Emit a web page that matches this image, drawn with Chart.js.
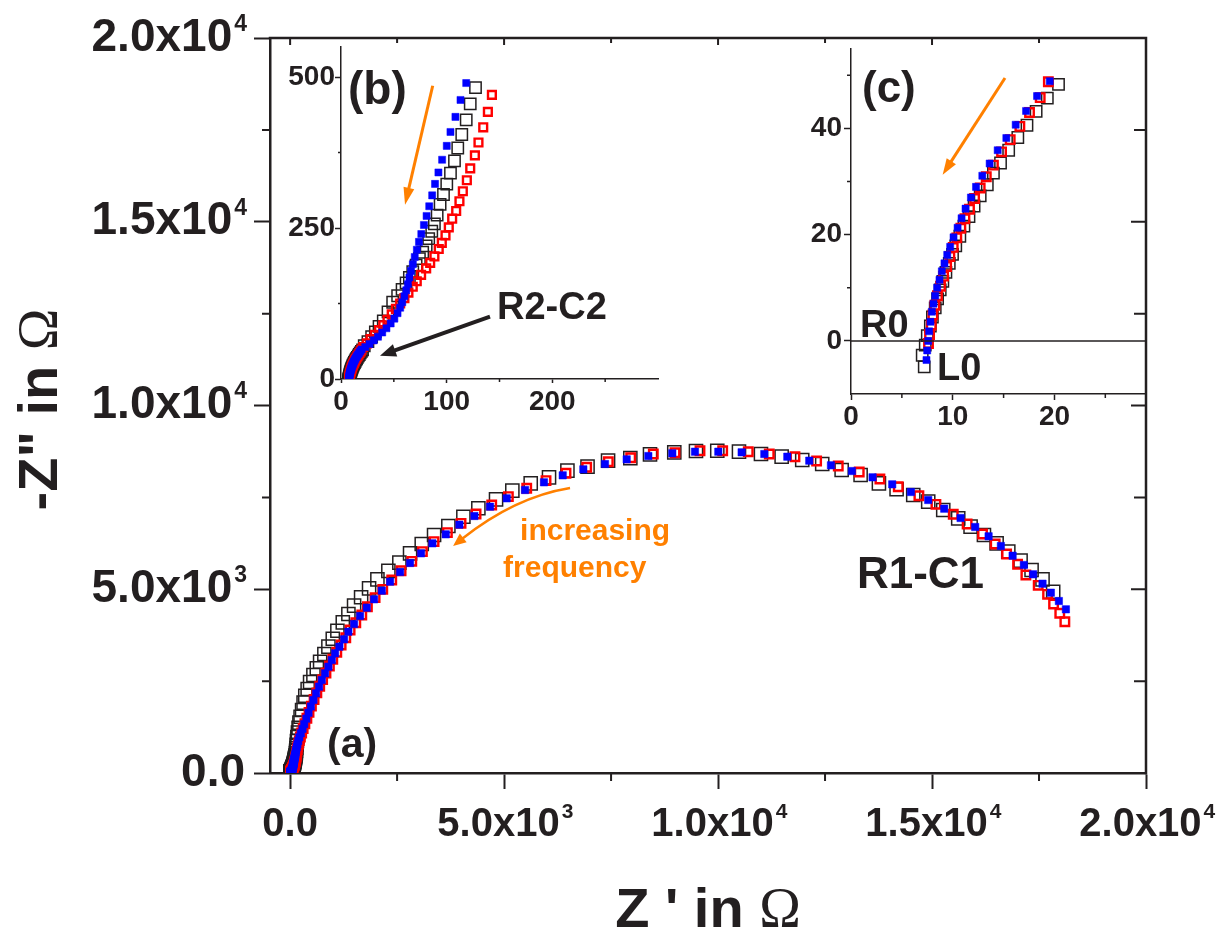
<!DOCTYPE html>
<html>
<head>
<meta charset="utf-8">
<script src="https://cdn.jsdelivr.net/npm/chart.js@4.4.0/dist/chart.umd.min.js"></script>
<style>
html,body{margin:0;padding:0;background:#fff;}
#wrap{position:relative;width:1223px;height:932px;overflow:hidden;background:#fff;}
canvas{position:absolute;}
#main{left:0;top:0;}
#insetB{left:280px;top:30px;}
#insetC{left:780px;top:30px;}
</style>
</head>
<body>
<div id="wrap">
<canvas id="main" width="1260" height="932"></canvas>
<canvas id="insetB" width="390" height="400"></canvas>
<canvas id="insetC" width="420" height="420"></canvas>
</div>
<script>
// ---------------- data: Z' (ohm) and -Z'' (ohm), from high to low frequency ----------------
const blueX = [7.42,7.49,7.59,7.68,7.81,7.95,8.11,8.28,8.47,8.70,8.93,9.19,9.46,9.75,10.08,10.48,10.87,11.26,11.79,12.29,12.91,13.63,14.42,15.27,16.19,17.21,18.29,19.54,
  23,27,31,35,39,43,47,50.5,53.5,56,58,60,61.8,63.3,64.8,66.3,68,69.8,71.8,73.8,76,78.5,81,83.5,86.3,89,92.2,95.7,100.1,103.6,108.3,113.1,118.5,
  124,132,142,155,170,190,215,250,290,330,380,430,485,545,607,677,740,818,895,974,1051,1152,1261,1362,1495,1635,1791,1962,2142,2336,2570,2803,3060,3325,3637,3955,4306,4672,5062,5490,5933,6370,6852,7358,7865,8371,8931,9461,10006,10551,11081,11618,12131,12638,13128,13611,14070,14506,14911,15285,15667,16009,16322,16609,16883,17146,17363,17582,17777,17964,18128];
const blueY = [-3.6,-1.8,0,1.8,3.6,5.5,7.0,8.5,10.0,11.5,13.1,14.6,16.2,17.7,19.5,21.3,23.1,24.9,27.0,29.0,31.1,33.4,35.9,38.2,40.7,43.3,46.1,48.9,
  53,58,64,70,77,84,92,100,109,118,127,137,147,157,168,179,190,202,214,227,240,255,270,286,304,323,342,363,386,409,434,462,490,
  520,570,630,700,780,870,970,1080,1200,1330,1480,1640,1810,1986,2168,2350,2531,2713,2892,3075,3256,3437,3638,3845,4054,4272,4498,4726,4961,5206,5469,5714,5978,6250,6495,6757,6993,7247,7474,7700,7910,8100,8263,8408,8535,8626,8699,8743,8743,8726,8680,8607,8499,8373,8217,8046,7855,7646,7428,7192,6939,6694,6441,6177,5913,5660,5407,5151,4906,4680,4454];

const redX = [7.62,7.72,7.89,8.05,8.25,8.5,8.8,9.1,9.4,9.72,10.05,10.4,10.8,11.2,11.65,12.15,12.7,13.3,14.0,14.8,15.65,16.6,17.55,18.6,19.4,
  21,24.5,28,32,36,40,44,48,52,56,60,63.8,67.9,71.7,75.8,80.6,84.4,88.4,92.5,95.4,98.9,102,105.2,109,112.1,115.3,119.1,122.3,126.7,130.1,134.6,139,142.8,
  150,158,167,180,196,216,240,270,305,345,392,442,498,560,625,692,760,838,918,997,1091,1192,1301,1402,1535,1675,1806,1986,2165,2375,2593,2843,3091,3364,3675,3994,4345,4711,5100,5529,5980,6447,6930,7436,7958,8487,8994,9578,10108,10706,11197,11797,12303,12809,13299,13782,14211,14693,15091,15496,15820,16180,16476,16742,16999,17193,17481,17700,17840,17985,18104];
const redY = [-0.5,1.2,3.0,4.9,6.7,8.5,10.3,12.2,14.0,15.9,17.6,19.4,21.2,23.0,24.8,26.8,28.8,30.9,33.1,35.6,37.9,40.4,43.0,45.8,48.8,
  53,59,66,73,81,89,98,107,116,125,134,143.1,152.7,161.8,172.4,183.2,192.3,202.9,215.2,225.3,237.7,251,265.4,278.2,294.3,310.9,329,348.8,370.2,391.5,416.7,442.3,470.5,
  520,575,640,710,790,880,980,1090,1210,1340,1490,1650,1820,2000,2180,2360,2540,2720,2911,3094,3284,3483,3682,3891,4090,4299,4525,4771,4998,5252,5505,5760,6023,6295,6540,6794,7048,7292,7520,7747,7955,8155,8318,8471,8580,8680,8716,8770,8770,8743,8680,8607,8490,8353,8190,8000,7790,7545,7311,7039,6775,6503,6231,5959,5679,5388,5107,4862,4599,4346,4117];

const blackX = [7.2,7.0,7.3,7.5,7.8,8.0,8.28,8.51,8.77,9.03,9.33,9.66,9.98,10.3,10.7,11.1,11.6,12.1,12.7,13.4,14.0,14.7,15.5,16.4,17.3,18.2,19.3,20.4,
  22,25.5,29,32.5,36,40,44.5,48.9,53.6,57.8,61.6,64.7,67.9,71.1,74.2,77.3,80.6,83,85.9,88.4,91,93.8,97,100.1,103.6,107.4,110.5,114.3,118.5,122.3,127.3,
  134,140,146,152,160,170,183,198,218,245,280,315,355,410,467,545,624,701,801,895,997,1105,1231,1362,1495,1659,1845,2040,2296,2553,2803,3076,3364,3698,4049,4399,4812,5193,5622,6050,6480,6950,7430,7950,8410,8977,9484,9982,10489,11003,11486,11967,12434,12888,13331,13759,14172,14561,14911,15262,15612,15901,16213,16509,16782,17069,17326,17582,17831];
const blackY = [-4.9,-2.7,-0.8,1.0,2.8,4.5,6.2,7.9,9.6,11.2,12.9,14.6,16.3,17.9,19.7,21.6,23.4,25.4,27.3,29.4,31.6,33.5,35.9,38.3,40.6,43.2,45.7,48.3,
  55,62,70,78,87,96,111,127.1,137.8,148.4,159.1,168.3,177.9,188.5,199.2,209.9,220.5,232.3,244.6,256.9,271.3,289,305.5,322.6,340.7,361.1,382.4,404.8,428.9,455.6,482.3,
  540,600,680,770,870,980,1100,1230,1370,1530,1714,1913,2103,2286,2476,2667,2848,3028,3238,3437,3654,3872,4100,4326,4553,4781,5025,5270,5500,5723,5978,6231,6476,6721,6974,7203,7447,7683,7883,8046,8226,8335,8499,8570,8671,8726,8762,8770,8743,8680,8607,8517,8408,8245,8109,7883,7720,7565,7383,7157,6930,6703,6476,6250,6023,5777,5524,5270,4933];

// inset (b) shows points with -Z'' up to 500, inset (c) up to 50
const insetBMax = 500;
const insetCMax = 50;

// ---------------- ticks ----------------
const mainXTicks = [0, 5000, 10000, 15000, 20000];
const mainXLabels = ['0.0', '5.0x10', '1.0x10', '1.5x10', '2.0x10'];
const mainXExps = ['', '3', '4', '4', '4'];
const mainYTicks = [0, 5000, 10000, 15000, 20000];
const mainYLabels = ['0.0', '5.0x10', '1.0x10', '1.5x10', '2.0x10'];
const mainYExps = ['', '3', '4', '4', '4'];
const mainXMinor = [2500, 7500, 12500, 17500];
const mainYMinor = [2500, 7500, 12500, 17500];

const bXTicks = [0, 100, 200];
const bXLabels = ['0', '100', '200'];
const bXMinor = [50, 150, 250];
const bYTicks = [0, 250, 500];
const bYLabels = ['0', '250', '500'];
const bYMinor = [125, 375];

const cXTicks = [0, 10, 20];
const cXLabels = ['0', '10', '20'];
const cXMinor = [5, 15, 25];
const cYTicks = [0, 20, 40];
const cYLabels = ['0', '20', '40'];
const cYMinor = [10, 30, 50];

// ---------------- styling ----------------
const INK = '#231f20';
const ORANGE = '#ff8000';
const FONT = "'Liberation Sans', Arial, Helvetica, sans-serif";
const SERIF = "'Liberation Serif', 'Times New Roman', serif";
Chart.defaults.font.family = FONT;
Chart.defaults.animation = false;

const MX = {size: 40, tick: 16, pad: 12};   // main x tick label geometry
const MY = {size: 46, tick: 16, pad: 9};    // main y tick label geometry

function pts(xs, ys, maxY) {
  const out = [];
  xs.forEach((x, i) => { if (maxY === undefined || ys[i] <= maxY) out.push({x: x, y: ys[i]}); });
  return out;
}
function makeDatasets(maxY, s) {
  return [
    {label: 'blue', data: pts(blueX, blueY, maxY), pointStyle: 'rect', pointRadius: s.blue,
     pointBackgroundColor: '#0000ff', pointBorderColor: '#0000ff', pointBorderWidth: 0.5, clip: 0},
    {label: 'red', data: pts(redX, redY, maxY), pointStyle: 'rect', pointRadius: s.red,
     pointBackgroundColor: 'rgba(0,0,0,0)', pointBorderColor: '#ff0000', pointBorderWidth: 2.4, clip: 0},
    {label: 'black', data: pts(blackX, blackY, maxY), pointStyle: 'rect', pointRadius: s.black,
     pointBackgroundColor: 'rgba(0,0,0,0)', pointBorderColor: INK, pointBorderWidth: 1.5, clip: 0}
  ];
}
function axis(o) {
  return {
    type: 'linear', position: o.pos, min: o.min, max: o.max,
    afterBuildTicks: s => { s.ticks = o.ticks.map(v => ({value: v})); },
    afterFit: s => { if (o.pos === 'bottom') s.height = o.size; else s.width = o.size; },
    ticks: {callback: (v, i) => o.labels[i] + (o.exps && o.exps[i] ? ' ' : ''),
            autoSkip: false, maxRotation: 0, minRotation: 0,
            padding: o.pad, color: INK, font: {family: FONT, size: o.font, weight: 'bold'}},
    grid: {display: true, drawOnChartArea: false, drawTicks: true, tickLength: o.tick,
           tickWidth: o.tw, tickColor: INK},
    border: {display: true, color: INK, width: o.bw}
  };
}
function richText(ctx, parts, x, y) {
  let w = 0;
  parts.forEach(p => { ctx.font = p.f; p.w = ctx.measureText(p.t).width; w += p.w; });
  let cx = x - w / 2;
  ctx.textAlign = 'left';
  ctx.textBaseline = 'alphabetic';
  parts.forEach(p => { ctx.font = p.f; ctx.fillText(p.t, cx, y); cx += p.w; });
}
function drawArrow(ctx, P, color, lw, hl, hw) {
  ctx.save();
  ctx.strokeStyle = color; ctx.fillStyle = color; ctx.lineWidth = lw; ctx.lineCap = 'butt';
  const end = P[P.length - 1];
  let from;
  ctx.beginPath();
  if (P.length === 3) {
    const p0 = P[0], m = P[1];
    const c = [2 * m[0] - (p0[0] + end[0]) / 2, 2 * m[1] - (p0[1] + end[1]) / 2];
    from = c;
    const dx = end[0] - c[0], dy = end[1] - c[1], d = Math.hypot(dx, dy);
    ctx.moveTo(p0[0], p0[1]);
    ctx.quadraticCurveTo(c[0], c[1], end[0] - dx / d * hl * 0.8, end[1] - dy / d * hl * 0.8);
  } else {
    from = P[0];
    const dx = end[0] - from[0], dy = end[1] - from[1], d = Math.hypot(dx, dy);
    ctx.moveTo(from[0], from[1]);
    ctx.lineTo(end[0] - dx / d * hl * 0.8, end[1] - dy / d * hl * 0.8);
  }
  ctx.stroke();
  const dx = end[0] - from[0], dy = end[1] - from[1], d = Math.hypot(dx, dy), ux = dx / d, uy = dy / d;
  ctx.beginPath();
  ctx.moveTo(end[0], end[1]);
  ctx.lineTo(end[0] - ux * hl - uy * hw / 2, end[1] - uy * hl + ux * hw / 2);
  ctx.lineTo(end[0] - ux * hl + uy * hw / 2, end[1] - uy * hl - ux * hw / 2);
  ctx.closePath();
  ctx.fill();
  ctx.restore();
}
function makeDecor(cfg) {
  return {
    id: 'decor' + cfg.name,
    afterDraw(chart) {
      const ctx = chart.ctx, a = chart.chartArea;
      const sx = chart.scales.x, sy = chart.scales.y;
      const X = v => sx.getPixelForValue(v), Y = v => sy.getPixelForValue(v);
      ctx.save();
      ctx.strokeStyle = INK;
      ctx.lineWidth = cfg.tickWidth;
      ctx.beginPath();
      cfg.xMinor.forEach(v => { ctx.moveTo(X(v), a.bottom); ctx.lineTo(X(v), a.bottom + cfg.minorLen); });
      cfg.yMinor.forEach(v => { ctx.moveTo(a.left, Y(v)); ctx.lineTo(a.left - cfg.minorLen, Y(v)); });
      if (cfg.frame) {
        const f = cfg.frame;
        f.xMajor.forEach(v => { ctx.moveTo(X(v), a.top); ctx.lineTo(X(v), a.top + f.topMajor); });
        f.xMinor.forEach(v => { ctx.moveTo(X(v), a.top); ctx.lineTo(X(v), a.top + f.topMinor); });
        f.yMajor.forEach(v => { ctx.moveTo(a.right, Y(v)); ctx.lineTo(a.right - f.rightMajor, Y(v)); });
        f.yMinor.forEach(v => { ctx.moveTo(a.right, Y(v)); ctx.lineTo(a.right - f.rightMinor, Y(v)); });
      }
      ctx.stroke();
      if (cfg.frame) {
        ctx.lineWidth = cfg.frame.width;
        ctx.lineCap = 'square';
        ctx.beginPath();
        ctx.moveTo(a.left, a.top); ctx.lineTo(a.right, a.top); ctx.lineTo(a.right, a.bottom);
        ctx.stroke();
      }
      if (cfg.zeroLine) {
        ctx.lineWidth = 1.5; ctx.lineCap = 'butt';
        ctx.beginPath();
        ctx.moveTo(a.left, Y(0)); ctx.lineTo(a.right, Y(0));
        ctx.stroke();
      }
      // exponents of the main tick labels (superscripts)
      if (cfg.exps) {
        ctx.fillStyle = INK;
        ctx.textAlign = 'left';
        ctx.textBaseline = 'alphabetic';
        const fx = 'bold ' + MX.size + 'px ' + FONT, fy = 'bold ' + MY.size + 'px ' + FONT;
        mainXTicks.forEach((v, i) => {
          const e = mainXExps[i]; if (!e) return;
          ctx.font = fx;
          const wb = ctx.measureText(mainXLabels[i]).width, wa = ctx.measureText(mainXLabels[i] + ' ').width;
          const mid = a.bottom + MX.tick + MX.pad + MX.size * 0.6;
          const base = mid + 0.3465 * MX.size;
          ctx.font = 'bold ' + Math.round(MX.size * 0.53) + 'px ' + FONT;
          ctx.fillText(e, X(v) - wa / 2 + wb + 2, base - 0.52 * MX.size);
        });
        mainYTicks.forEach((v, i) => {
          const e = mainYExps[i]; if (!e) return;
          ctx.font = fy;
          const wb = ctx.measureText(mainYLabels[i]).width, wa = ctx.measureText(mainYLabels[i] + ' ').width;
          const right = a.left - MY.tick - MY.pad;
          const base = Y(v) + 0.3465 * MY.size;
          ctx.font = 'bold ' + Math.round(MY.size * 0.5) + 'px ' + FONT;
          ctx.fillText(e, right - wa + wb + 2, base - 0.5 * MY.size);
        });
      }
      (cfg.arrows || []).forEach(ar => {
        drawArrow(ctx, ar.pts.map(p => [X(p[0]), Y(p[1])]), ar.color, ar.lw, ar.hl, ar.hw);
      });
      (cfg.texts || []).forEach(t => {
        ctx.fillStyle = t.color || INK;
        ctx.font = 'bold ' + t.size + 'px ' + FONT;
        ctx.textAlign = 'left';
        ctx.textBaseline = 'alphabetic';
        ctx.fillText(t.t, X(t.x), Y(t.y));
      });
      if (cfg.xTitle) {
        ctx.fillStyle = INK;
        richText(ctx, cfg.xTitle, (a.left + a.right) / 2, a.bottom + 154);
      }
      if (cfg.yTitle) {
        ctx.fillStyle = INK;
        ctx.save();
        ctx.translate(a.left - 213, (a.top + a.bottom) / 2 + 4);
        ctx.rotate(-Math.PI / 2);
        richText(ctx, cfg.yTitle, 0, 0);
        ctx.restore();
      }
      ctx.restore();
    }
  };
}

// ---------------- main chart (a) ----------------
new Chart(document.getElementById('main'), {
  type: 'scatter',
  data: {datasets: makeDatasets(undefined, {blue: 5.2, red: 6, black: 9.3})},
  options: {
    responsive: false, devicePixelRatio: 1, animation: false, events: [],
    layout: {padding: {top: 38, right: 114, bottom: 0, left: 0}, autoPadding: false},
    plugins: {legend: {display: false}, tooltip: {enabled: false}},
    scales: {
      x: axis({pos: 'bottom', min: -470, max: 20000, ticks: mainXTicks, labels: mainXLabels, exps: mainXExps,
               size: 159, pad: MX.pad, font: MX.size, tick: MX.tick, tw: 2, bw: 2.5}),
      y: axis({pos: 'left', min: 0, max: 20000, ticks: mainYTicks, labels: mainYLabels, exps: mainYExps,
               size: 270, pad: MY.pad, font: MY.size, tick: MY.tick, tw: 2, bw: 2.5})
    }
  },
  plugins: [makeDecor({
    name: 'main', tickWidth: 2, minorLen: 8, xMinor: mainXMinor, yMinor: mainYMinor, exps: true,
    frame: {width: 2.5, xMajor: [0, 5000, 10000, 15000], xMinor: mainXMinor, topMajor: 7, topMinor: 5,
            yMajor: [5000, 10000, 15000], yMinor: mainYMinor, rightMajor: 15, rightMinor: 12},
    arrows: [{pts: [[6541, 7755], [5209, 7238], [3808, 6177]], color: ORANGE, lw: 2.5, hl: 13, hw: 11}],
    texts: [
      {t: '(a)', x: 864, y: 435, size: 41},
      {t: 'R1-C1', x: 13245, y: 5034, size: 44},
      {t: 'increasing', x: 5373, y: 6340, size: 30, color: ORANGE},
      {t: 'frequency', x: 4976, y: 5333, size: 30, color: ORANGE}
    ],
    xTitle: [{t: "Z ' in ", f: 'bold 56px ' + FONT}, {t: 'Ω', f: '56px ' + SERIF}],
    yTitle: [{t: '-Z" in ', f: 'bold 56px ' + FONT}, {t: 'Ω', f: '56px ' + SERIF}]
  })]
});

// ---------------- inset (b) ----------------
new Chart(document.getElementById('insetB'), {
  type: 'scatter',
  data: {datasets: makeDatasets(insetBMax, {blue: 5, red: 5.5, black: 8})},
  options: {
    responsive: false, devicePixelRatio: 1, animation: false, events: [],
    layout: {padding: {top: 8, right: 12, bottom: 0, left: 0}, autoPadding: false},
    plugins: {legend: {display: false}, tooltip: {enabled: false}},
    scales: {
      x: axis({pos: 'bottom', min: 0, max: 300, ticks: bXTicks, labels: bXLabels, size: 51,
               pad: 2, font: 28, tick: 4, tw: 1.5, bw: 1.5}),
      y: axis({pos: 'left', min: 0, max: 550, ticks: bYTicks, labels: bYLabels, size: 61,
               pad: 0, font: 28, tick: 6, tw: 1.5, bw: 1.5})
    }
  },
  plugins: [makeDecor({
    name: 'b', tickWidth: 1.5, minorLen: 3, xMinor: bXMinor, yMinor: bYMinor,
    arrows: [
      {pts: [[86.8, 485.5], [60.6, 288.7]], color: ORANGE, lw: 3, hl: 17, hw: 11},
      {pts: [[141, 103.2], [36.9, 38.7]], color: INK, lw: 4, hl: 16, hw: 13}
    ],
    texts: [
      {t: '(b)', x: 6.6, y: 455, size: 46},
      {t: 'R2-C2', x: 147.6, y: 100, size: 38}
    ]
  })]
});

// ---------------- inset (c) ----------------
new Chart(document.getElementById('insetC'), {
  type: 'scatter',
  data: {datasets: makeDatasets(insetCMax, {blue: 5, red: 6, black: 8})},
  options: {
    responsive: false, devicePixelRatio: 1, animation: false, events: [],
    layout: {padding: {top: 8, right: 54, bottom: 0, left: 0}, autoPadding: false},
    plugins: {legend: {display: false}, tooltip: {enabled: false}},
    scales: {
      x: axis({pos: 'bottom', min: 0, max: 29, ticks: cXTicks, labels: cXLabels, size: 56,
               pad: 0, font: 28, tick: 6, tw: 1.5, bw: 1.5}),
      y: axis({pos: 'left', min: -10, max: 55, ticks: cYTicks, labels: cYLabels, size: 71,
               pad: 2, font: 28, tick: 7, tw: 1.5, bw: 1.5})
    }
  },
  plugins: [makeDecor({
    name: 'c', tickWidth: 1.5, minorLen: 4, xMinor: cXMinor, yMinor: cYMinor, zeroLine: true,
    arrows: [{pts: [[15.14, 49.5], [9.01, 31.3]], color: ORANGE, lw: 3, hl: 16, hw: 11}],
    texts: [
      {t: '(c)', x: 1.08, y: 44.96, size: 44},
      {t: 'R0', x: 0.88, y: 0.8, size: 38},
      {t: 'L0', x: 8.45, y: -7.4, size: 38}
    ]
  })]
});
</script>
</body>
</html>
